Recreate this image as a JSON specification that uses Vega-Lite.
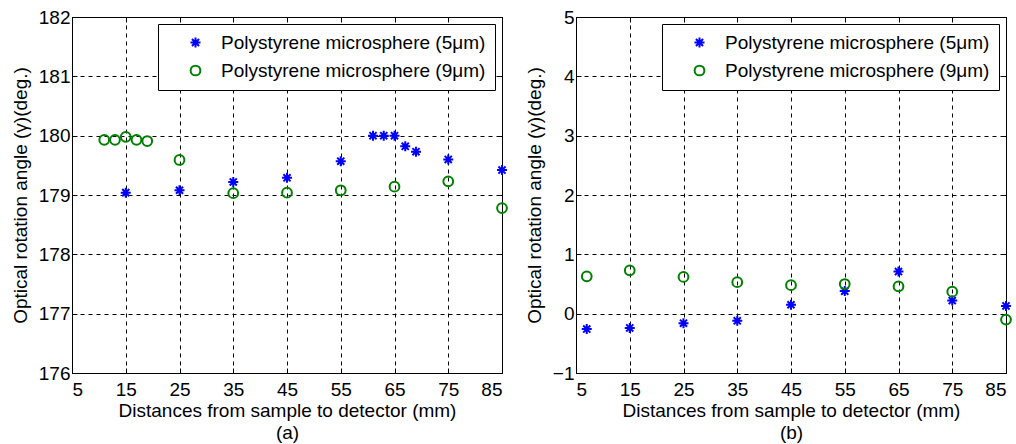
{
  "$schema": "https://vega.github.io/schema/vega-lite/v6.json",
  "background": "white",
  "padding": {"left": 10, "top": 7, "right": 0, "bottom": 0},
  "config": {
    "font": "Liberation Sans",
    "view": {"stroke": "black", "strokeWidth": 1},
    "axis": {
      "domainColor": "black", "tickColor": "black", "labelColor": "black", "titleColor": "black",
      "labelFont": "Liberation Sans", "titleFont": "Liberation Sans",
      "labelFontSize": 19, "titleFontSize": 19, "titleFontWeight": "normal",
      "tickSize": -5, "gridColor": "black", "gridDash": [4, 4], "gridOpacity": 1, "gridWidth": 1
    },
    "axisX": {"labelPadding": 12, "titlePadding": 2},
    "axisY": {"labelPadding": 7, "titlePadding": 8},
    "legend": {
      "orient": "top-right", "offset": 7, "strokeColor": "black", "fillColor": "white", "padding": 9,
      "labelFontSize": 19, "labelFont": "Liberation Sans", "labelColor": "black", "symbolStrokeWidth": 2,
      "rowPadding": 8, "labelOffset": 16, "symbolOffset": 19, "labelLimit": 400
    }
  },
  "datasets": {
    "d": [
      {"panel": "a", "series": "Polystyrene microsphere (5μm)", "x": 15, "y": 179.04},
      {"panel": "a", "series": "Polystyrene microsphere (5μm)", "x": 25, "y": 179.08},
      {"panel": "a", "series": "Polystyrene microsphere (5μm)", "x": 35, "y": 179.22},
      {"panel": "a", "series": "Polystyrene microsphere (5μm)", "x": 45, "y": 179.29},
      {"panel": "a", "series": "Polystyrene microsphere (5μm)", "x": 55, "y": 179.57},
      {"panel": "a", "series": "Polystyrene microsphere (5μm)", "x": 61, "y": 180.0},
      {"panel": "a", "series": "Polystyrene microsphere (5μm)", "x": 63, "y": 180.0},
      {"panel": "a", "series": "Polystyrene microsphere (5μm)", "x": 65, "y": 180.0},
      {"panel": "a", "series": "Polystyrene microsphere (5μm)", "x": 67, "y": 179.82},
      {"panel": "a", "series": "Polystyrene microsphere (5μm)", "x": 69, "y": 179.73},
      {"panel": "a", "series": "Polystyrene microsphere (5μm)", "x": 75, "y": 179.6},
      {"panel": "a", "series": "Polystyrene microsphere (5μm)", "x": 85, "y": 179.42},
      {"panel": "a", "series": "Polystyrene microsphere (9μm)", "x": 11, "y": 179.93},
      {"panel": "a", "series": "Polystyrene microsphere (9μm)", "x": 13, "y": 179.93},
      {"panel": "a", "series": "Polystyrene microsphere (9μm)", "x": 15, "y": 179.98},
      {"panel": "a", "series": "Polystyrene microsphere (9μm)", "x": 17, "y": 179.93},
      {"panel": "a", "series": "Polystyrene microsphere (9μm)", "x": 19, "y": 179.91},
      {"panel": "a", "series": "Polystyrene microsphere (9μm)", "x": 25, "y": 179.59},
      {"panel": "a", "series": "Polystyrene microsphere (9μm)", "x": 35, "y": 179.03},
      {"panel": "a", "series": "Polystyrene microsphere (9μm)", "x": 45, "y": 179.04},
      {"panel": "a", "series": "Polystyrene microsphere (9μm)", "x": 55, "y": 179.08},
      {"panel": "a", "series": "Polystyrene microsphere (9μm)", "x": 65, "y": 179.14},
      {"panel": "a", "series": "Polystyrene microsphere (9μm)", "x": 75, "y": 179.23},
      {"panel": "a", "series": "Polystyrene microsphere (9μm)", "x": 85, "y": 178.78},
      {"panel": "b", "series": "Polystyrene microsphere (5μm)", "x": 7, "y": -0.26},
      {"panel": "b", "series": "Polystyrene microsphere (5μm)", "x": 15, "y": -0.24},
      {"panel": "b", "series": "Polystyrene microsphere (5μm)", "x": 25, "y": -0.16},
      {"panel": "b", "series": "Polystyrene microsphere (5μm)", "x": 35, "y": -0.12},
      {"panel": "b", "series": "Polystyrene microsphere (5μm)", "x": 45, "y": 0.15},
      {"panel": "b", "series": "Polystyrene microsphere (5μm)", "x": 55, "y": 0.38},
      {"panel": "b", "series": "Polystyrene microsphere (5μm)", "x": 65, "y": 0.71},
      {"panel": "b", "series": "Polystyrene microsphere (5μm)", "x": 75, "y": 0.22},
      {"panel": "b", "series": "Polystyrene microsphere (5μm)", "x": 85, "y": 0.13},
      {"panel": "b", "series": "Polystyrene microsphere (9μm)", "x": 7, "y": 0.63},
      {"panel": "b", "series": "Polystyrene microsphere (9μm)", "x": 15, "y": 0.73},
      {"panel": "b", "series": "Polystyrene microsphere (9μm)", "x": 25, "y": 0.62},
      {"panel": "b", "series": "Polystyrene microsphere (9μm)", "x": 35, "y": 0.53},
      {"panel": "b", "series": "Polystyrene microsphere (9μm)", "x": 45, "y": 0.48},
      {"panel": "b", "series": "Polystyrene microsphere (9μm)", "x": 55, "y": 0.5},
      {"panel": "b", "series": "Polystyrene microsphere (9μm)", "x": 65, "y": 0.46},
      {"panel": "b", "series": "Polystyrene microsphere (9μm)", "x": 75, "y": 0.37},
      {"panel": "b", "series": "Polystyrene microsphere (9μm)", "x": 85, "y": -0.1}
    ]
  },
  "spacing": 12,
  "resolve": {
    "scale": {"color": "independent", "shape": "independent", "size": "independent"},
    "legend": {"color": "independent", "shape": "independent", "size": "independent"}
  },
  "hconcat": [
    {
      "width": 430, "height": 356,
      "data": {"name": "d"},
      "transform": [{"filter": "datum.panel === 'a'"}],
      "layer": [
        {
          "mark": {"type": "point", "filled": false, "strokeWidth": 2, "opacity": 1},
          "encoding": {
            "x": {"field": "x", "type": "quantitative",
              "scale": {"domain": [5, 85], "nice": false, "zero": false},
              "axis": {"values": [5, 15, 25, 35, 45, 55, 65, 75, 85], "grid": true,
                "title": ["Distances from sample to detector (mm)", "(a)"], "titleLineHeight": 22}},
            "y": {"field": "y", "type": "quantitative",
              "scale": {"domain": [176, 182], "nice": false, "zero": false},
              "axis": {"values": [176, 177, 178, 179, 180, 181, 182], "grid": true,
                "title": "Optical rotation angle (γ)(deg.)"}},
            "color": {"field": "series", "type": "nominal",
              "scale": {"domain": ["Polystyrene microsphere (5μm)", "Polystyrene microsphere (9μm)"], "range": ["#0000ff", "#008000"]},
              "legend": {"title": null}},
            "shape": {"field": "series", "type": "nominal",
              "scale": {"domain": ["Polystyrene microsphere (5μm)", "Polystyrene microsphere (9μm)"],
                "range": ["M-1,0L1,0M0,-1L0,1M-0.71,-0.71L0.71,0.71M-0.71,0.71L0.71,-0.71", "circle"]},
              "legend": {"title": null}},
            "size": {"field": "series", "type": "nominal",
              "scale": {"domain": ["Polystyrene microsphere (5μm)", "Polystyrene microsphere (9μm)"], "range": [100, 95]},
              "legend": {"title": null}}
          }
        },
        {
          "mark": {"type": "point", "opacity": 0},
          "encoding": {
            "x": {"field": "x", "type": "quantitative",
              "scale": {"domain": [5, 85], "nice": false, "zero": false},
              "axis": {"orient": "top", "values": [5, 15, 25, 35, 45, 55, 65, 75, 85], "labels": false, "title": null, "grid": false}},
            "y": {"field": "y", "type": "quantitative",
              "scale": {"domain": [176, 182], "nice": false, "zero": false},
              "axis": {"orient": "right", "values": [176, 177, 178, 179, 180, 181, 182], "labels": false, "title": null, "grid": false}}
          }
        }
      ],
      "resolve": {"scale": {"x": "independent", "y": "independent"}}
    },
    {
      "width": 430, "height": 356,
      "data": {"name": "d"},
      "transform": [{"filter": "datum.panel === 'b'"}],
      "layer": [
        {
          "mark": {"type": "point", "filled": false, "strokeWidth": 2, "opacity": 1},
          "encoding": {
            "x": {"field": "x", "type": "quantitative",
              "scale": {"domain": [5, 85], "nice": false, "zero": false},
              "axis": {"values": [5, 15, 25, 35, 45, 55, 65, 75, 85], "grid": true,
                "title": ["Distances from sample to detector (mm)", "(b)"], "titleLineHeight": 22}},
            "y": {"field": "y", "type": "quantitative",
              "scale": {"domain": [-1, 5], "nice": false, "zero": false},
              "axis": {"values": [-1, 0, 1, 2, 3, 4, 5], "grid": true,
                "title": "Optical rotation angle (γ)(deg.)"}},
            "color": {"field": "series", "type": "nominal",
              "scale": {"domain": ["Polystyrene microsphere (5μm)", "Polystyrene microsphere (9μm)"], "range": ["#0000ff", "#008000"]},
              "legend": {"title": null}},
            "shape": {"field": "series", "type": "nominal",
              "scale": {"domain": ["Polystyrene microsphere (5μm)", "Polystyrene microsphere (9μm)"],
                "range": ["M-1,0L1,0M0,-1L0,1M-0.71,-0.71L0.71,0.71M-0.71,0.71L0.71,-0.71", "circle"]},
              "legend": {"title": null}},
            "size": {"field": "series", "type": "nominal",
              "scale": {"domain": ["Polystyrene microsphere (5μm)", "Polystyrene microsphere (9μm)"], "range": [100, 95]},
              "legend": {"title": null}}
          }
        },
        {
          "mark": {"type": "point", "opacity": 0},
          "encoding": {
            "x": {"field": "x", "type": "quantitative",
              "scale": {"domain": [5, 85], "nice": false, "zero": false},
              "axis": {"orient": "top", "values": [5, 15, 25, 35, 45, 55, 65, 75, 85], "labels": false, "title": null, "grid": false}},
            "y": {"field": "y", "type": "quantitative",
              "scale": {"domain": [-1, 5], "nice": false, "zero": false},
              "axis": {"orient": "right", "values": [-1, 0, 1, 2, 3, 4, 5], "labels": false, "title": null, "grid": false}}
          }
        }
      ],
      "resolve": {"scale": {"x": "independent", "y": "independent"}}
    }
  ]
}
